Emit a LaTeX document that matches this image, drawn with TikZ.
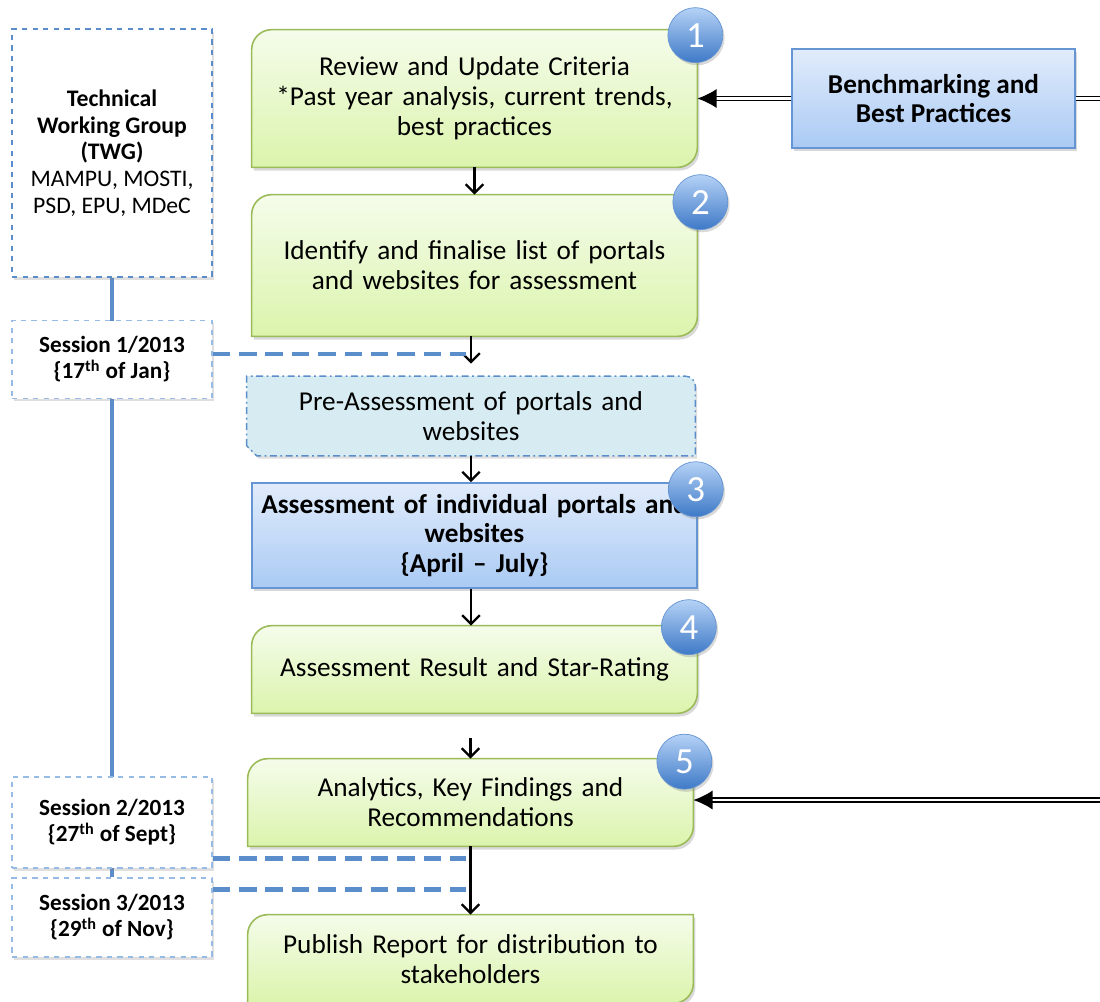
\documentclass[tikz,border=0pt]{standalone}
\usepackage{fontspec}
\setmainfont{Carlito}
\usetikzlibrary{arrows.meta,shadows,backgrounds}
\definecolor{greentop}{HTML}{F5FCEB}
\definecolor{greenbot}{HTML}{DBF4AC}
\definecolor{greenedge}{HTML}{9BBB59}
\definecolor{bluetop}{HTML}{E1ECFB}
\definecolor{bluebot}{HTML}{AACAF4}
\definecolor{blueedge}{HTML}{6595D2}
\definecolor{prefill}{HTML}{D6ECF2}
\definecolor{balltop}{HTML}{B5D2F6}
\definecolor{ballbot}{HTML}{3E79C7}
\definecolor{tieblue}{HTML}{5B8DCB}
\definecolor{sessedge}{HTML}{98BBE6}

% box with round top-left and bottom-right corners
\newcommand{\diagshape}[2]{%
  \path[#2] (#1.south west) -- ([yshift=-0.4cm]#1.north west)
    arc[start angle=180,end angle=90,radius=0.4cm] -- (#1.north east)
    -- ([yshift=0.4cm]#1.south east)
    arc[start angle=0,end angle=-90,radius=0.4cm] -- cycle;}
% box with snipped bottom-left corner
\newcommand{\snipshape}[2]{%
  \path[#2] ([yshift=0.2cm]#1.south west) -- (#1.north west)
    -- ([xshift=-0.2cm]#1.north east)
    arc[start angle=90,end angle=0,radius=0.2cm] -- (#1.south east)
    -- ([xshift=0.2cm]#1.south west) -- cycle;}

\begin{document}
\begin{tikzpicture}[
  stepbox/.style={minimum width=8.9cm, inner sep=0pt, text width=8.8cm,
    align=center, font=\fontsize{15.5}{17}\selectfont},
  greenfill/.style={top color=greentop, bottom color=greenbot, draw=greenedge,
    line width=0.9pt, drop shadow={shadow xshift=1.2pt, shadow yshift=-1.8pt, opacity=0.3}},
  blueshade/.style={top color=bluetop, bottom color=bluebot, draw=blueedge,
    line width=0.9pt, drop shadow={shadow xshift=1.2pt, shadow yshift=-1.8pt, opacity=0.3}},
  sessbox/.style={draw=sessedge, dashed, fill=white, line width=0.8pt,
    minimum width=4cm, inner sep=0pt, align=center,
    font=\bfseries\fontsize{13.2}{14.8}\selectfont,
    drop shadow={shadow xshift=1pt, shadow yshift=-1.5pt, opacity=0.25}},
  numball/.style={circle, minimum size=1.1cm, inner sep=0pt, top color=balltop,
    bottom color=ballbot, draw=ballbot!80, text=white,
    font=\fontsize{21}{21}\selectfont,
    drop shadow={shadow xshift=1pt, shadow yshift=-1.5pt, opacity=0.3}},
  flow/.style={-{Straight Barb[length=5pt,width=10pt,line width=1.3pt]}, line width=1.2pt},
  feed/.style={double, double distance=1.4pt, line width=0.9pt},
  tie/.style={tieblue, line width=2.6pt, dash pattern=on 10pt off 5pt},
  spine/.style={tieblue, line width=2.2pt}
]
\useasboundingbox (0,0) rectangle (22,-20.02);

% main flow
\node[stepbox, minimum height=2.74cm] (rev) at (9.49,-1.97)
  {Review and Update Criteria\\ {*}Past year analysis, current trends,\\ best practices};
\node[stepbox, below of=rev, node distance=3.34cm, minimum height=2.82cm] (ident)
  {Identify and finalise list of portals\\ and websites for assessment};
\node[stepbox, below of=ident, node distance=3.01cm, xshift=-0.07cm,
  minimum width=8.96cm, minimum height=1.58cm] (pre)
  {Pre-Assessment of portals and\\ websites};
\node[stepbox, blueshade, below of=pre, node distance=2.39cm, xshift=0.07cm,
  minimum height=2.1cm, font=\bfseries\fontsize{15.5}{17}\selectfont] (assess)
  {Assessment of individual portals and\\ websites\\ \{April -- July\}};
\node[stepbox, below of=assess, node distance=2.68cm, minimum height=1.74cm] (result)
  {Assessment Result and Star-Rating};
\node[stepbox, below of=result, node distance=2.66cm, xshift=-0.08cm,
  minimum height=1.74cm] (analytics)
  {Analytics, Key Findings and\\ Recommendations};
\node[stepbox, below of=analytics, node distance=3.13cm, minimum height=1.76cm] (publish)
  {Publish Report for distribution to\\ stakeholders};

\node[blueshade, right of=rev, node distance=9.18cm, minimum width=5.66cm,
  minimum height=1.98cm, inner sep=0pt, align=center,
  font=\bfseries\fontsize{15.5}{17}\selectfont] (bench)
  {Benchmarking and\\ Best Practices};

% working group and sessions
\node[sessbox, draw=tieblue, minimum height=4.96cm, font=\fontsize{13.5}{15.2}\selectfont]
  (twg) at (2.24,-3.06)
  {\textbf{Technical}\\ \textbf{Working Group}\\ \textbf{(TWG)}\\ MAMPU, MOSTI,\\ PSD, EPU, MDeC};
\node[sessbox, below of=twg, node distance=4.13cm, minimum height=1.56cm] (s1)
  {Session 1/2013\\ \{17\textsuperscript{th} of Jan\}};
\node[sessbox, below of=s1, node distance=9.26cm, minimum height=1.82cm] (s2)
  {Session 2/2013\\ \{27\textsuperscript{th} of Sept\}};
\node[sessbox, below of=s2, node distance=1.9cm, minimum height=1.58cm] (s3)
  {Session 3/2013\\ \{29\textsuperscript{th} of Nov\}};

\begin{scope}[on background layer]
  \foreach \n in {rev,ident,result,analytics,publish}
    \diagshape{\n}{greenfill};
  \snipshape{pre}{fill=prefill, draw=tieblue, line width=0.8pt,
    dash pattern=on 4pt off 2pt on 1pt off 2pt,
    drop shadow={shadow xshift=1pt, shadow yshift=-1.5pt, opacity=0.25}};
  \draw[spine] (twg.south) -- (s3.north);
\end{scope}

% arrows
\draw[flow] (rev) -- (ident);
\draw[flow, shorten >=0.25cm] (ident.south -| pre) -- (pre);
\draw[flow] (pre.south) -- (pre.south |- assess.north);
\draw[flow] (assess.south -| pre.south) -- (pre.south |- result.north);
\draw[flow, shorten <=0.5cm] (result.south -| analytics) -- (analytics);
\draw[flow] (analytics) -- (publish);

% feeds from the right
\coordinate (edgeA) at (22,-1.97);
\coordinate (edgeB) at (22,-16.0);
\draw[feed, -{Latex[length=11pt,width=11pt]}] (bench.west) -- (bench.west -| rev.east);
\draw[feed] (bench.east) -- (bench.east -| edgeA);
\draw[feed, -{Latex[length=11pt,width=11pt]}] (edgeB) -- (edgeB -| analytics.east);

% session ties
\coordinate (t1) at ([yshift=0.11cm]s1.east);
\coordinate (t2) at ([yshift=0.2cm]s2.south east);
\coordinate (t3) at ([yshift=-0.24cm]s3.north east);
\draw[tie, shorten >=0.1cm] (t1) -- (t1 -| pre.south);
\draw[tie, shorten >=0.1cm] (t2) -- (t2 -| analytics.south);
\draw[tie, shorten >=0.1cm] (t3) -- (t3 -| analytics.south);

% step numbers
\foreach \n/\k/\dx/\dy in {rev/1/-0.04/-0.11, ident/2/0.06/-0.15,
    assess/3/-0.04/-0.14, result/4/-0.17/-0.03, analytics/5/-0.18/-0.06}
  \node[numball] (ball\k) at ([shift={(\dx,\dy)}]\n.north east) {\k};
\end{tikzpicture}
\end{document}
